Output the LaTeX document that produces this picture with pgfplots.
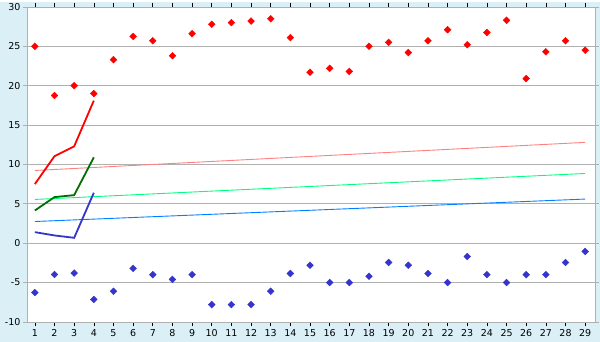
\documentclass[border=0pt]{standalone}
\usepackage{pgfplots}
\pgfplotsset{compat=1.18}
\usepackage{fontspec}
\setmainfont{DejaVu Sans}
\definecolor{bg}{HTML}{DAF0F6}
\definecolor{gridgray}{HTML}{B0B0B0}
\definecolor{mblue}{HTML}{3535CC}
\definecolor{dgreen}{HTML}{006E00}
\definecolor{tred}{HTML}{FF8080}
\definecolor{tgreen}{HTML}{00FF80}
\definecolor{tblue}{HTML}{0080FF}
\begin{document}
\begin{tikzpicture}
\fill[bg] (-27pt,-20pt) rectangle (573pt,320pt);
\begin{axis}[at={(0,0)}, anchor=south west, scale only axis,
  width=568pt, height=315pt,
  xmin=0.6, xmax=29.5, ymin=-10, ymax=30,
  xtick={1,...,29}, ytick={-10,-5,...,30},
  ymajorgrids, grid style={color=gridgray, line width=0.8pt},
  axis line style={gridgray, line width=0.8pt},
  tick align=outside, major tick length=4pt,
  xtick style={black, line width=0.6pt}, ytick style={gridgray, line width=0.8pt},
  ticklabel style={font=\fontsize{9.5}{10}\selectfont},
  xticklabel style={yshift=0pt},
  yticklabel style={xshift=1pt},
  /pgf/number format/assume math mode=true,
  axis background/.style={fill=white},
]
\addplot[only marks, mark=square*, mark options={rotate=45}, mark size=2.4pt, color=red] coordinates {
(1,25.0)(2,18.75)(3,20.0)(4,19.0)(5,23.3)(6,26.25)(7,25.7)(8,23.8)(9,26.6)
(10,27.8)(11,28.0)(12,28.2)(13,28.5)(14,26.1)(15,21.7)(16,22.2)(17,21.8)(18,25.0)(19,25.5)
(20,24.2)(21,25.7)(22,27.1)(23,25.2)(24,26.75)(25,28.3)(26,20.9)(27,24.3)(28,25.7)(29,24.5)};
\addplot[only marks, mark=square*, mark options={rotate=45}, mark size=2.4pt, color=mblue] coordinates {
(1,-6.27)(2,-3.98)(3,-3.8)(4,-7.15)(5,-6.1)(6,-3.2)(7,-4.0)(8,-4.6)(9,-4.0)
(10,-7.8)(11,-7.8)(12,-7.8)(13,-6.1)(14,-3.85)(15,-2.8)(16,-5.0)(17,-5.0)(18,-4.2)(19,-2.45)
(20,-2.8)(21,-3.85)(22,-5.0)(23,-1.7)(24,-4.0)(25,-5.0)(26,-4.0)(27,-4.0)(28,-2.45)(29,-1.05)};
\addplot[tred, line width=0.9pt] coordinates {(1,9.23)(29,12.8)};
\addplot[tgreen, line width=0.9pt] coordinates {(1,5.55)(29,8.85)};
\addplot[tblue, line width=0.9pt] coordinates {(1,2.75)(29,5.6)};
\addplot[red, line width=1.8pt] coordinates {(1,7.5)(2,11.05)(3,12.3)(4,18.1)};
\addplot[dgreen, line width=1.8pt] coordinates {(1,4.15)(2,5.85)(3,6.1)(4,10.9)};
\addplot[mblue, line width=1.8pt] coordinates {(1,1.4)(2,0.98)(3,0.68)(4,6.4)};
\end{axis}
\end{tikzpicture}
\end{document}
